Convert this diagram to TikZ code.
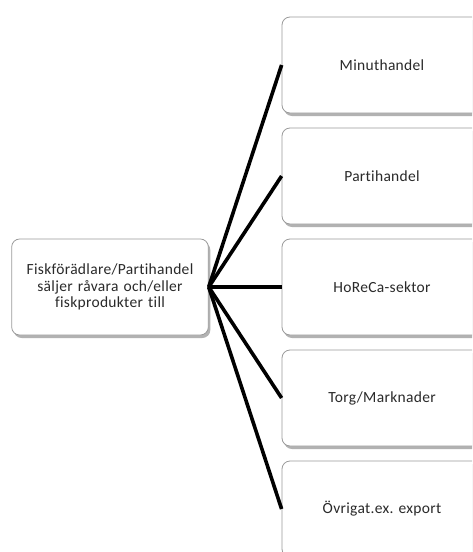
\documentclass[tikz,border=0pt]{standalone}
\usepackage{fontspec}
\setmainfont{Carlito}[LetterSpace=2,Ligatures={NoCommon}]
\usetikzlibrary{shadows}
\definecolor{txt}{HTML}{2A2A2A}
\definecolor{bord}{HTML}{9A9A9A}
\tikzset{
  box/.style={draw=bord, line width=0.8pt, fill=white, rounded corners=8pt,
    minimum height=96pt, align=center, text=txt, font=\fontsize{15.5}{16.5}\selectfont,
    drop shadow={shadow xshift=2pt, shadow yshift=-3pt, fill=black, opacity=0.3}},
  lbox/.style={box, minimum width=194pt, text width=190pt},
  rbox/.style={box, minimum width=200pt},
  conn/.style={line width=3.6pt, black}
}
\begin{document}
\begin{tikzpicture}[x=1pt,y=-1pt]
\useasboundingbox (0,0) rectangle (472,552);
\clip (0,0) rectangle (472,552);
\node[lbox] (L) at (110,287) {Fiskförädlare/Partihandel\\säljer råvara och/eller\\fiskprodukter till};
\node[rbox] (R1) at (382,65) {Minuthandel};
\node[rbox] (R2) at (382,176) {Partihandel};
\node[rbox] (R3) at (382,287) {HoReCa-sektor};
\node[rbox] (R4) at (382,398) {Torg/Marknader};
\node[rbox] (R5) at (382,509) {Övrigat.ex. export};
\foreach \r in {R1,R2,R3,R4,R5} \draw[conn] (L.east) -- (\r.west);
\end{tikzpicture}
\end{document}
